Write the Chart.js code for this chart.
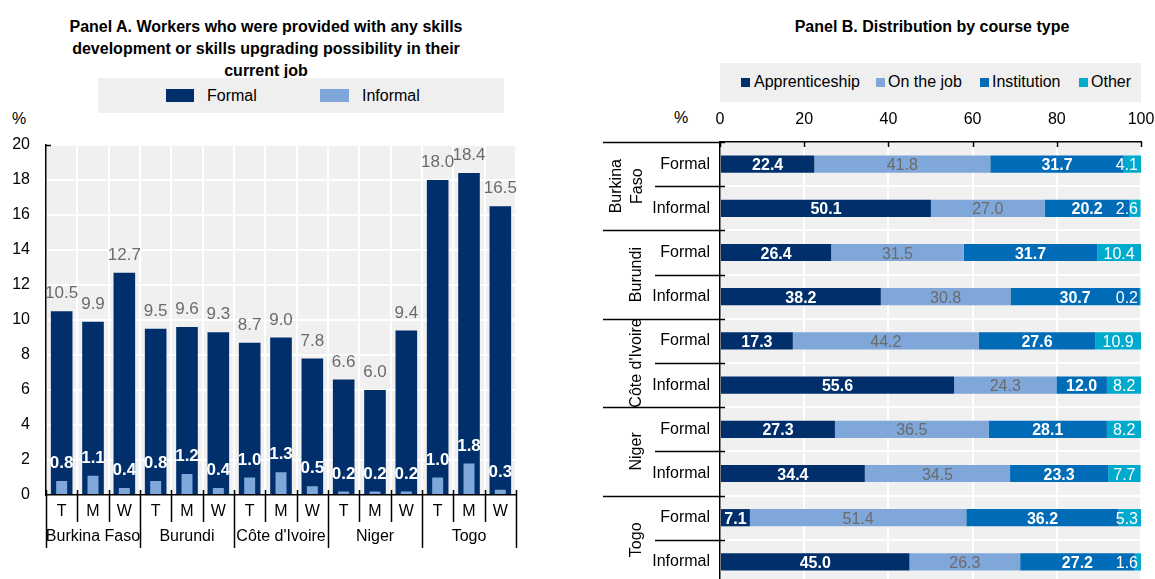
<!DOCTYPE html>
<html><head><meta charset="utf-8">
<script src="https://cdn.jsdelivr.net/npm/chart.js@4.4.1/dist/chart.umd.min.js"></script>
<style>
html,body{margin:0;padding:0;background:#fff;overflow:hidden;width:1155px;height:579px;}
body{position:relative;font-family:'Liberation Sans',Arial,sans-serif;color:#000;}
.abs{position:absolute;white-space:nowrap;}
.title{font-weight:bold;font-size:16px;text-align:center;line-height:22px;}
.legbox{background:#efefef;}
.lt{font-size:16px;line-height:20px;}
canvas{position:absolute;}
</style></head>
<body>
<div class="abs title" style="left:0;top:16px;width:532px;">Panel A. Workers who were provided with any skills<br>development or skills upgrading possibility in their<br>current job</div>
<div class="abs legbox" style="left:98px;top:78px;width:406px;height:35px;"></div>
<div class="abs" style="left:166px;top:89px;width:28px;height:13px;background:#002F6C;"></div>
<div class="abs lt" style="left:207px;top:86px;">Formal</div>
<div class="abs" style="left:320px;top:89px;width:29px;height:13px;background:#7FA7D9;"></div>
<div class="abs lt" style="left:362px;top:86px;">Informal</div>
<div class="abs lt" style="left:12px;top:109px;">%</div>

<div class="abs title" style="left:732px;top:16px;width:400px;">Panel B. Distribution by course type</div>
<div class="abs legbox" style="left:720px;top:63px;width:421px;height:39px;"></div>
<div class="abs" style="left:741px;top:78px;width:9px;height:9px;background:#002F6C;"></div>
<div class="abs lt" style="left:754px;top:72px;">Apprenticeship</div>
<div class="abs" style="left:876px;top:78px;width:9px;height:9px;background:#7FA7D9;"></div>
<div class="abs lt" style="left:888px;top:72px;">On the job</div>
<div class="abs" style="left:980px;top:78px;width:9px;height:9px;background:#006BB6;"></div>
<div class="abs lt" style="left:992px;top:72px;">Institution</div>
<div class="abs" style="left:1079px;top:78px;width:9px;height:9px;background:#00AACC;"></div>
<div class="abs lt" style="left:1091px;top:72px;">Other</div>
<div class="abs lt" style="left:674px;top:108px;">%</div>

<canvas id="cA" width="540" height="579" style="left:0;top:0;width:540px;height:579px;"></canvas>
<canvas id="cB" width="565" height="600" style="left:590px;top:0;width:565px;height:600px;"></canvas>

<script>
const FONT = "'Liberation Sans',Arial,sans-serif";

// ---- Panel A data ----
const countries = ['Burkina Faso', 'Burundi', "Côte d'Ivoire", 'Niger', 'Togo'];
const sexLabels = ['T', 'M', 'W'];
const formalA = [10.5, 9.9, 12.7, 9.5, 9.6, 9.3, 8.7, 9.0, 7.8, 6.6, 6.0, 9.4, 18.0, 18.4, 16.5];
const informalA = [0.8, 1.1, 0.4, 0.8, 1.2, 0.4, 1.0, 1.3, 0.5, 0.2, 0.2, 0.2, 1.0, 1.8, 0.3];
const yMinA = 0, yMaxA = 20, yStepA = 2;

// ---- Panel B data ----
const countryGroupsB = [['Burkina', 'Faso'], ['Burundi'], ["Côte d'Ivoire"], ['Niger'], ['Togo']];
const rowTypes = ['Formal', 'Informal'];
const apprenticeship = [22.4, 50.1, 26.4, 38.2, 17.3, 55.6, 27.3, 34.4, 7.1, 45.0];
const onTheJob = [41.8, 27.0, 31.5, 30.8, 44.2, 24.3, 36.5, 34.5, 51.4, 26.3];
const institution = [31.7, 20.2, 31.7, 30.7, 27.6, 12.0, 28.1, 23.3, 36.2, 27.2];
const other = [4.1, 2.6, 10.4, 0.2, 10.9, 8.2, 8.2, 7.7, 5.3, 1.6];
const xMinB = 0, xMaxB = 100, xStepB = 20;

const labelsA = [];
countries.forEach(() => sexLabels.forEach(s => labelsA.push(s)));
const labelsB = [];
countryGroupsB.forEach(() => rowTypes.forEach(r => labelsB.push(r)));

const FS = 16;

const bgPlugin = {
  id: 'bg',
  beforeDraw(chart) {
    const a = chart.chartArea, c = chart.ctx;
    c.save(); c.fillStyle = '#f0f0f0';
    c.fillRect(a.left, a.top, a.right - a.left, a.bottom - a.top);
    c.restore();
  }
};

const zeroPad = s => { s.paddingTop = 0; s.paddingBottom = 0; s.paddingLeft = 0; s.paddingRight = 0; };

// ---------- Panel A ----------
const plugA = {
  id: 'plugA',
  afterDatasetsDraw(chart) {
    const ctx = chart.ctx;
    ctx.save();
    ctx.textAlign = 'center'; ctx.textBaseline = 'alphabetic';
    chart.data.datasets.forEach((ds, di) => {
      const meta = chart.getDatasetMeta(di);
      meta.data.forEach((bar, i) => {
        ctx.font = (di === 0 ? '' : 'bold ') + '17px ' + FONT;
        ctx.fillStyle = di === 0 ? '#6b6b6b' : '#ffffff';
        ctx.fillText(ds.data[i].toFixed(1), bar.x, bar.y - 13);
      });
    });
    ctx.restore();
  },
  afterDraw(chart) {
    const ctx = chart.ctx, xs = chart.scales.x, a = chart.chartArea;
    const n = labelsA.length, w = (xs.right - xs.left) / n;
    ctx.save();
    ctx.strokeStyle = '#000'; ctx.lineWidth = 1.5;
    for (let k = 0; k <= n; k++) {
      const x = Math.round(xs.left + k * w) + 0.5;
      ctx.beginPath();
      ctx.moveTo(x, a.bottom - 5);
      ctx.lineTo(x, a.bottom + (k % 3 === 0 ? 53 : 27));
      ctx.stroke();
    }
    ctx.beginPath(); ctx.moveTo(a.left, a.top + 0.5); ctx.lineTo(a.left + 5, a.top + 0.5); ctx.stroke();
    ctx.fillStyle = '#000'; ctx.font = FS + 'px ' + FONT;
    ctx.textAlign = 'center'; ctx.textBaseline = 'middle';
    countries.forEach((c, g) => {
      ctx.fillText(c, xs.left + (3 * g + 1.5) * w, a.bottom + 42);
    });
    ctx.restore();
  }
};

new Chart(document.getElementById('cA'), {
  type: 'bar',
  data: {
    labels: labelsA,
    datasets: [
      { label: 'Formal', data: formalA, backgroundColor: '#002F6C', barPercentage: 0.69, categoryPercentage: 1, grouped: false, order: 2 },
      { label: 'Informal', data: informalA, backgroundColor: '#7FA7D9', barPercentage: 0.35, categoryPercentage: 1, grouped: false, order: 1 }
    ]
  },
  options: {
    responsive: false, animation: false, devicePixelRatio: 1,
    layout: { padding: { top: 145, left: 0, right: 24, bottom: 0 } },
    plugins: { legend: { display: false }, tooltip: { enabled: false } },
    scales: {
      x: {
        grid: { color: '#ffffff', lineWidth: 2, offset: true, drawTicks: false },
        border: { color: '#000', width: 1.5 },
        ticks: { color: '#000', font: { family: FONT, size: FS }, padding: 7, maxRotation: 0, autoSkip: false },
        afterFit(s) { s.height = 84; zeroPad(s); }
      },
      y: {
        min: yMinA, max: yMaxA,
        grid: { color: '#ffffff', lineWidth: 2, drawTicks: false },
        border: { color: '#000', width: 1.5 },
        ticks: { stepSize: yStepA, color: '#000', font: { family: FONT, size: FS }, padding: 16 },
        afterFit(s) { s.width = 46; zeroPad(s); }
      }
    }
  },
  plugins: [bgPlugin, plugA]
});

// ---------- Panel B ----------
const plugB = {
  id: 'plugB',
  afterDatasetsDraw(chart) {
    const ctx = chart.ctx, a = chart.chartArea;
    ctx.save();
    ctx.textAlign = 'center'; ctx.textBaseline = 'alphabetic';
    chart.data.datasets.forEach((ds, di) => {
      const meta = chart.getDatasetMeta(di);
      meta.data.forEach((bar, i) => {
        const bold = (di === 0 || di === 2);
        ctx.font = (bold ? 'bold ' : '') + FS + 'px ' + FONT;
        ctx.fillStyle = di === 1 ? '#6b6b6b' : '#ffffff';
        const txt = ds.data[i].toFixed(1);
        const tw = ctx.measureText(txt).width;
        let cx = (bar.x + bar.base) / 2;
        if (di === 3) cx = Math.min(cx, a.right - 3 - tw / 2);
        ctx.fillText(txt, cx, bar.y + 6);
      });
    });
    ctx.restore();
  },
  afterDraw(chart) {
    const ctx = chart.ctx, a = chart.chartArea, xs = chart.scales.x;
    const n = labelsB.length, h = (a.bottom - a.top) / n;
    ctx.save();
    ctx.strokeStyle = '#000'; ctx.lineWidth = 1.5;
    for (let k = 0; k <= n; k++) {
      const y = Math.round(a.top + k * h) + 0.5;
      ctx.beginPath();
      ctx.moveTo(k % 2 === 0 ? 13 : 65, y);
      ctx.lineTo(a.left + 5, y);
      ctx.stroke();
    }
    for (let v = xMinB; v <= xMaxB; v += xStepB) {
      const x = Math.round(xs.getPixelForValue(v)) + 0.5;
      ctx.beginPath(); ctx.moveTo(x, a.top); ctx.lineTo(x, a.top + 5); ctx.stroke();
    }
    ctx.fillStyle = '#000'; ctx.font = FS + 'px ' + FONT;
    ctx.textAlign = 'center'; ctx.textBaseline = 'middle';
    countryGroupsB.forEach((lines, g) => {
      const cy = a.top + (2 * g + 1) * h;
      ctx.save();
      ctx.translate(47, cy);
      ctx.rotate(-Math.PI / 2);
      const lh = 21;
      lines.forEach((ln, j) => {
        ctx.fillText(ln, 0, (j - (lines.length - 1) / 2) * lh + (lines.length > 1 ? -10 : 0));
      });
      ctx.restore();
    });
    ctx.restore();
  }
};

new Chart(document.getElementById('cB'), {
  type: 'bar',
  data: {
    labels: labelsB,
    datasets: [
      { label: 'Apprenticeship', data: apprenticeship, backgroundColor: '#002F6C' },
      { label: 'On the job', data: onTheJob, backgroundColor: '#7FA7D9' },
      { label: 'Institution', data: institution, backgroundColor: '#006BB6' },
      { label: 'Other', data: other, backgroundColor: '#00AACC' }
    ].map(d => Object.assign(d, { barPercentage: 0.39, categoryPercentage: 1 }))
  },
  options: {
    indexAxis: 'y',
    responsive: false, animation: false, devicePixelRatio: 1,
    layout: { padding: { top: 100, left: 0, right: 14, bottom: 16 } },
    plugins: { legend: { display: false }, tooltip: { enabled: false } },
    scales: {
      x: {
        position: 'top', stacked: true, min: xMinB, max: xMaxB,
        grid: { color: '#ffffff', lineWidth: 2, drawTicks: false },
        border: { color: '#000', width: 1.5 },
        ticks: { stepSize: xStepB, color: '#000', font: { family: FONT, size: FS }, padding: 13, maxRotation: 0 },
        afterFit(s) { s.height = 42; zeroPad(s); }
      },
      y: {
        stacked: true,
        grid: { color: '#ffffff', lineWidth: 2, offset: true, drawTicks: false },
        border: { color: '#000', width: 1.5 },
        ticks: { color: '#000', font: { family: FONT, size: FS }, padding: 10, autoSkip: false },
        afterFit(s) { s.width = 130; zeroPad(s); }
      }
    }
  },
  plugins: [bgPlugin, plugB]
});
</script>
</body></html>
